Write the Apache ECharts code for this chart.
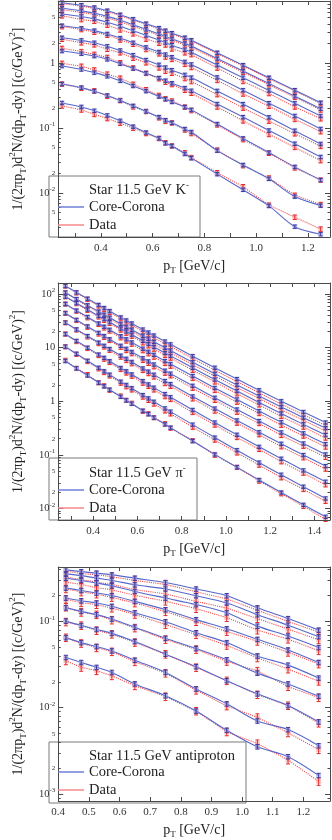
<!DOCTYPE html>
<html lang="en">
<head>
<meta charset="UTF-8">
<title>Core-Corona vs STAR 11.5 GeV spectra</title>
<script src="https://cdn.jsdelivr.net/npm/echarts@6/dist/echarts.min.js"></script>
<style>
  html, body { margin: 0; padding: 0; background: #fff; }
  #chart { width: 332px; height: 840px; }
</style>
</head>
<body>
<div id="chart"></div>
<script>
// ---- K- panel ----
var ptKaon = [0.25, 0.325, 0.375, 0.425, 0.475, 0.525, 0.575, 0.625, 0.65, 0.675, 0.725, 0.75, 0.85, 0.95, 1.05, 1.15, 1.25];
var kaonModel = [
  [8.47, 7.76, 7.14, 6.38, 5.53, 4.72, 4.03, 3.44, 3.14, 2.88, 2.45, 2.24, 1.44, 0.927, 0.594, 0.382, 0.245],
  [6.95, 6.35, 5.86, 5.22, 4.54, 3.86, 3.30, 2.81, 2.56, 2.35, 2.00, 1.83, 1.17, 0.752, 0.482, 0.309, 0.198],
  [5.68, 5.19, 4.78, 4.25, 3.68, 3.13, 2.66, 2.26, 2.07, 1.88, 1.60, 1.47, 0.931, 0.593, 0.378, 0.240, 0.153],
  [3.75, 3.42, 3.15, 2.80, 2.42, 2.05, 1.74, 1.48, 1.35, 1.23, 1.04, 0.951, 0.601, 0.381, 0.241, 0.153, 0.0966],
  [2.45, 2.23, 2.05, 1.81, 1.56, 1.32, 1.11, 0.938, 0.853, 0.776, 0.656, 0.597, 0.372, 0.233, 0.146, 0.0908, 0.0568],
  [1.53, 1.39, 1.28, 1.14, 0.975, 0.824, 0.695, 0.587, 0.535, 0.488, 0.411, 0.374, 0.234, 0.147, 0.0916, 0.0573, 0.0358],
  [0.899, 0.796, 0.711, 0.625, 0.532, 0.444, 0.370, 0.305, 0.277, 0.252, 0.210, 0.190, 0.115, 0.0692, 0.0418, 0.0252, 0.0158],
  [0.475, 0.418, 0.367, 0.316, 0.265, 0.219, 0.180, 0.147, 0.132, 0.120, 0.0964, 0.0867, 0.0448, 0.0269, 0.0165, 0.00879, 0.00638],
  [0.243, 0.211, 0.184, 0.156, 0.129, 0.105, 0.0851, 0.0692, 0.0582, 0.0530, 0.0399, 0.0344, 0.0195, 0.0112, 0.00632, 0.00303, 0.00232]
];
var kaonData = [
  [8.22, 7.53, 6.93, 6.19, 5.36, 4.58, 3.91, 3.34, 3.05, 2.79, 2.38, 2.17, 1.40, 0.899, 0.576, 0.371, 0.238],
  [6.60, 6.03, 5.57, 4.96, 4.31, 3.67, 3.14, 2.67, 2.43, 2.23, 1.90, 1.74, 1.12, 0.722, 0.463, 0.297, 0.190],
  [5.34, 4.67, 4.40, 3.83, 3.24, 2.82, 2.34, 2.03, 1.90, 1.65, 1.44, 1.35, 0.838, 0.522, 0.340, 0.211, 0.139],
  [3.64, 3.28, 2.99, 2.69, 2.27, 1.95, 1.62, 1.39, 1.24, 1.14, 0.957, 0.856, 0.541, 0.335, 0.217, 0.136, 0.0879],
  [2.33, 2.05, 1.91, 1.63, 1.44, 1.19, 1.01, 0.844, 0.751, 0.698, 0.577, 0.519, 0.327, 0.203, 0.128, 0.0817, 0.0523],
  [1.68, 1.50, 1.36, 1.22, 1.01, 0.840, 0.695, 0.575, 0.508, 0.468, 0.382, 0.344, 0.211, 0.129, 0.0797, 0.0504, 0.0315],
  [0.989, 0.892, 0.782, 0.675, 0.585, 0.471, 0.389, 0.317, 0.283, 0.260, 0.210, 0.186, 0.112, 0.0664, 0.0410, 0.0244, 0.0158],
  [0.475, 0.410, 0.374, 0.310, 0.265, 0.212, 0.180, 0.144, 0.127, 0.120, 0.0935, 0.0824, 0.0457, 0.0264, 0.0170, 0.00923, 0.00664],
  [0.219, 0.190, 0.162, 0.140, 0.119, 0.0998, 0.0825, 0.0692, 0.0594, 0.0530, 0.0415, 0.0351, 0.0205, 0.0125, 0.00651, 0.00424, 0.00278]
];
var kaonXLabels = [0.4, 0.6, 0.8, 1.0, 1.2];
var kaonXTicks = [0.3, 0.4, 0.5, 0.6, 0.7, 0.8, 0.9, 1.0, 1.1, 1.2];
var kaonYLabels = [0.005, 0.01, 0.02, 0.05, 0.1, 0.2, 0.5, 1, 2, 5];

// ---- pi- panel ----
var ptPion = [0.275, 0.325, 0.375, 0.425, 0.45, 0.475, 0.525, 0.55, 0.575, 0.625, 0.65, 0.675, 0.725, 0.75, 0.85, 0.95, 1.05, 1.15, 1.25, 1.35, 1.45];
var pionModel = [
  [141, 107, 81.7, 62.4, 54.6, 48.0, 36.6, 32.1, 28.2, 21.7, 19.1, 16.8, 13.0, 11.5, 6.92, 4.21, 2.59, 1.60, 1.00, 0.630, 0.401],
  [106, 80.4, 61.5, 47.1, 41.2, 36.3, 27.7, 24.4, 21.5, 16.6, 14.6, 12.8, 9.93, 8.79, 5.33, 3.25, 2.01, 1.25, 0.783, 0.494, 0.316],
  [89.1, 67.5, 51.3, 39.0, 34.0, 29.9, 22.7, 20.0, 17.5, 13.4, 11.7, 10.3, 7.94, 7.00, 4.20, 2.54, 1.55, 0.951, 0.592, 0.370, 0.234],
  [65.0, 49.0, 37.2, 28.2, 24.5, 21.5, 16.3, 14.3, 12.5, 9.55, 8.36, 7.33, 5.62, 4.95, 2.95, 1.77, 1.08, 0.656, 0.406, 0.252, 0.159],
  [43.7, 32.8, 24.8, 18.8, 16.4, 14.3, 10.8, 9.48, 8.30, 6.32, 5.53, 4.84, 3.71, 3.27, 1.94, 1.16, 0.701, 0.427, 0.262, 0.163, 0.102],
  [29.2, 21.8, 16.4, 12.4, 10.8, 9.40, 7.08, 6.18, 5.40, 4.09, 3.57, 3.12, 2.38, 2.09, 1.23, 0.730, 0.438, 0.264, 0.161, 0.0993, 0.0618],
  [17.9, 13.3, 9.95, 7.43, 6.43, 5.58, 4.17, 3.62, 3.16, 2.37, 2.06, 1.79, 1.36, 1.19, 0.687, 0.401, 0.237, 0.141, 0.0847, 0.0513, 0.0315],
  [10.4, 7.66, 5.68, 4.21, 3.62, 3.13, 2.32, 2.01, 1.75, 1.30, 1.13, 0.977, 0.735, 0.640, 0.366, 0.210, 0.122, 0.0718, 0.0426, 0.0255, 0.0154],
  [5.62, 4.10, 3.02, 2.22, 1.90, 1.64, 1.21, 1.04, 0.899, 0.665, 0.574, 0.495, 0.370, 0.321, 0.181, 0.102, 0.0587, 0.0340, 0.0199, 0.0117, 0.00700]
];
var pionData = [
  [141, 105, 79.2, 59.9, 51.9, 45.6, 34.4, 29.9, 26.2, 20.0, 17.6, 15.3, 11.7, 10.5, 6.23, 3.79, 2.31, 1.44, 0.880, 0.561, 0.353],
  [106, 78.8, 59.7, 45.2, 39.1, 34.5, 26.0, 22.7, 20.0, 15.3, 13.4, 11.6, 8.94, 8.00, 4.80, 2.93, 1.79, 1.13, 0.689, 0.440, 0.278],
  [89.1, 66.2, 49.8, 37.4, 32.3, 28.4, 21.3, 18.6, 16.3, 12.3, 10.8, 9.37, 7.15, 6.37, 3.78, 2.29, 1.38, 0.856, 0.521, 0.329, 0.206],
  [65.0, 48.0, 36.1, 27.1, 23.3, 20.4, 15.3, 13.3, 11.6, 8.79, 7.69, 6.67, 5.06, 4.50, 2.66, 1.59, 0.961, 0.590, 0.357, 0.224, 0.140],
  [43.7, 32.1, 24.1, 18.0, 15.6, 13.6, 10.2, 8.82, 7.72, 5.81, 5.09, 4.40, 3.34, 2.98, 1.75, 1.04, 0.624, 0.384, 0.231, 0.145, 0.0898],
  [29.2, 21.4, 15.9, 11.9, 10.3, 8.93, 6.66, 5.75, 5.02, 3.76, 3.28, 2.84, 2.14, 1.90, 1.11, 0.657, 0.390, 0.238, 0.142, 0.0884, 0.0544],
  [17.9, 13.0, 9.65, 7.13, 6.11, 5.30, 3.92, 3.37, 2.94, 2.18, 1.90, 1.63, 1.22, 1.08, 0.618, 0.361, 0.211, 0.127, 0.0745, 0.0457, 0.0277],
  [10.4, 7.51, 5.51, 4.04, 3.44, 2.97, 2.18, 1.87, 1.63, 1.20, 1.04, 0.889, 0.662, 0.582, 0.329, 0.189, 0.109, 0.0646, 0.0375, 0.0227, 0.0136],
  [5.79, 4.10, 3.14, 2.22, 1.94, 1.61, 1.25, 1.04, 0.917, 0.652, 0.585, 0.495, 0.381, 0.315, 0.185, 0.0989, 0.0587, 0.0326, 0.0189, 0.0110, 0.0063]
];
var pionXLabels = [0.4, 0.6, 0.8, 1.0, 1.2, 1.4];
var pionXTicks = [0.3, 0.4, 0.5, 0.6, 0.7, 0.8, 0.9, 1.0, 1.1, 1.2, 1.3, 1.4];
var pionYLabels = [0.01, 0.02, 0.05, 0.1, 0.2, 0.5, 1, 2, 5, 10, 20, 50, 100];

// ---- antiproton panel ----
var ptPbar = [0.425, 0.475, 0.525, 0.575, 0.65, 0.75, 0.85, 0.95, 1.05, 1.15, 1.25];
var pbarModel = [
  [0.396, 0.378, 0.363, 0.347, 0.318, 0.283, 0.238, 0.199, 0.144, 0.108, 0.0794],
  [0.356, 0.340, 0.318, 0.299, 0.266, 0.238, 0.199, 0.164, 0.120, 0.0906, 0.0667],
  [0.318, 0.299, 0.279, 0.259, 0.223, 0.187, 0.157, 0.126, 0.0883, 0.0678, 0.0499],
  [0.244, 0.229, 0.214, 0.200, 0.171, 0.137, 0.105, 0.0824, 0.0621, 0.0468, 0.0335],
  [0.187, 0.174, 0.164, 0.150, 0.126, 0.0993, 0.0741, 0.0569, 0.0399, 0.0312, 0.0221],
  [0.144, 0.131, 0.120, 0.107, 0.0859, 0.0638, 0.0485, 0.0359, 0.0252, 0.0189, 0.0136],
  [0.101, 0.0899, 0.0809, 0.0728, 0.0585, 0.0418, 0.0299, 0.0206, 0.0145, 0.0106, 0.00685],
  [0.0650, 0.0569, 0.0512, 0.0456, 0.0356, 0.0257, 0.0165, 0.0111, 0.00703, 0.00558, 0.00363],
  [0.0383, 0.0335, 0.0294, 0.0257, 0.0189, 0.0138, 0.00916, 0.00548, 0.00353, 0.00271, 0.00164]
];
var pbarData = [
  [0.384, 0.359, 0.348, 0.330, 0.299, 0.269, 0.221, 0.183, 0.135, 0.100, 0.0754],
  [0.328, 0.306, 0.286, 0.269, 0.234, 0.209, 0.171, 0.143, 0.108, 0.0815, 0.0614],
  [0.286, 0.269, 0.246, 0.233, 0.201, 0.172, 0.141, 0.111, 0.0795, 0.0624, 0.0459],
  [0.239, 0.220, 0.208, 0.190, 0.164, 0.130, 0.0998, 0.0766, 0.0590, 0.0440, 0.0322],
  [0.181, 0.165, 0.157, 0.143, 0.121, 0.0923, 0.0704, 0.0529, 0.0379, 0.0281, 0.0203],
  [0.147, 0.128, 0.120, 0.104, 0.0842, 0.0619, 0.0475, 0.0345, 0.0267, 0.0176, 0.0131],
  [0.0990, 0.0899, 0.0785, 0.0713, 0.0573, 0.0418, 0.0293, 0.0206, 0.0142, 0.0106, 0.00664],
  [0.0650, 0.0558, 0.0497, 0.0447, 0.0342, 0.0252, 0.0160, 0.0105, 0.00773, 0.00513, 0.00327],
  [0.0350, 0.0294, 0.0269, 0.0235, 0.0180, 0.0135, 0.00916, 0.00526, 0.00385, 0.00248, 0.00140]
];
var pbarXLabels = [0.4, 0.5, 0.6, 0.7, 0.8, 0.9, 1.0, 1.1, 1.2];
var pbarXTicks = [0.4, 0.5, 0.6, 0.7, 0.8, 0.9, 1.0, 1.1, 1.2];
var pbarYLabels = [0.001, 0.002, 0.005, 0.01, 0.02, 0.05, 0.1, 0.2];

// ---- styling ----
var FONT = 'Liberation Serif';
var AXIS = '#4a4a4a';
var BLUE = '#5868ca', BLUE_ERR = '#40389a', BLUE_PT = 'rgba(140,160,236,0.55)';
var RED = '#f24848', RED_ERR = '#e42828', RED_PT = 'rgba(246,140,140,0.5)';

var panels = [
  { pt: ptKaon, model: kaonModel, data: kaonData, xLabels: kaonXLabels, xTicks: kaonXTicks, yLabels: kaonYLabels,
    top: 1, height: 236, xMin: 0.2355, xMax: 1.286, yMin: 0.0021, yMax: 9.0, errM: 0.06, errD: 0.08,
    title: 'Star 11.5 GeV K{sup|-}', boxY: 176, boxW: 151, titleY: 190, legendTop: 199 },
  { pt: ptPion, model: pionModel, data: pionData, xLabels: pionXLabels, xTicks: pionXTicks, yLabels: pionYLabels,
    top: 283, height: 237, xMin: 0.2428, xMax: 1.47, yMin: 0.0061, yMax: 160, errM: 0.07, errD: 0.09,
    title: 'Star 11.5 GeV \u03c0{sup|-}', boxY: 458, boxW: 148, titleY: 473, legendTop: 482 },
  { pt: ptPbar, model: pbarModel, data: pbarData, xLabels: pbarXLabels, xTicks: pbarXTicks, yLabels: pbarYLabels,
    top: 567, height: 236, xMin: 0.4, xMax: 1.287, yMin: 0.00083, yMax: 0.428, errM: 0.06, errD: 0.1,
    title: 'Star 11.5 GeV antiproton', boxY: 742, boxW: 197, titleY: 756, legendTop: 764 }
];

function logTicks(lo, hi, major) {
  var out = [];
  for (var e = Math.floor(Math.log10(lo)); e <= Math.ceil(Math.log10(hi)); e++) {
    for (var k = major ? 1 : 2; k <= (major ? 1 : 9); k++) {
      var v = k * Math.pow(10, e);
      if (v >= lo && v <= hi) out.push(v);
    }
  }
  return out;
}

function yLabel(v) {
  var lg = Math.log10(v), e = Math.round(lg);
  if (Math.abs(lg - e) < 1e-6) {
    if (e === 0) return '{n|1}';
    if (e === 1) return '{n|10}';
    return '{n|10}{e|' + e + '}';
  }
  return '{m|' + Math.round(v / Math.pow(10, Math.floor(lg + 1e-9))) + '}';
}

function errBar(params, api) {
  var a = api.coord([api.value(0), api.value(1)]);
  var b = api.coord([api.value(0), api.value(2)]);
  var s = { stroke: api.visual('color'), lineWidth: 1 };
  return { type: 'group', children: [
    { type: 'line', shape: { x1: a[0], y1: a[1], x2: b[0], y2: b[1] }, style: s },
    { type: 'line', shape: { x1: a[0] - 2, y1: a[1], x2: a[0] + 2, y2: a[1] }, style: s },
    { type: 'line', shape: { x1: b[0] - 2, y1: b[1], x2: b[0] + 2, y2: b[1] }, style: s }
  ] };
}

function pairs(xs, ys) { return xs.map(function (x, j) { return [x, ys[j]]; }); }
function bars(xs, ys, rel) { return xs.map(function (x, j) { return [x, ys[j] * (1 - rel), ys[j] * (1 + rel)]; }); }

var grids = [], xAxes = [], yAxes = [], series = [], legends = [], titles = [], graphics = [];

panels.forEach(function (p, i) {
  grids.push({ left: 49, width: 281, top: p.top, height: p.height });

  function xAxis(pos) {
    var ax = {
      gridIndex: i, type: 'value', position: pos, min: p.xMin, max: p.xMax, z: 10,
      splitLine: { show: false },
      axisLine: { show: true, onZero: false, lineStyle: { color: AXIS, width: 1 } },
      axisTick: { show: true, inside: true, length: 4, customValues: p.xTicks, lineStyle: { color: AXIS } },
      axisLabel: { show: false }
    };
    if (pos === 'bottom') {
      ax.axisLabel = { show: true, customValues: p.xLabels, margin: 6, fontFamily: FONT, fontSize: 11, color: '#333',
        formatter: function (v) { return v.toFixed(1); } };
      ax.name = 'p{sub|T} [GeV/c]';
      ax.nameLocation = 'middle';
      ax.nameGap = 20;
      ax.nameTextStyle = { fontFamily: FONT, fontSize: 14, color: '#222', lineHeight: 18,
        rich: { sub: { fontFamily: FONT, fontSize: 9, lineHeight: 9, verticalAlign: 'bottom', color: '#222' } } };
    }
    return ax;
  }
  xAxes.push(xAxis('bottom'), xAxis('top'));

  function yAxis(pos, major) {
    var ax = {
      gridIndex: i, type: 'log', logBase: 10, position: pos, min: p.yMin, max: p.yMax, z: 10,
      splitLine: { show: false },
      axisLine: { show: major, onZero: false, lineStyle: { color: AXIS, width: 1 } },
      axisTick: { show: true, inside: true, length: major ? 5 : 2.5,
        customValues: logTicks(p.yMin, p.yMax, major), lineStyle: { color: AXIS } },
      axisLabel: { show: false }
    };
    if (pos === 'left' && major) {
      ax.axisLabel = { show: true, customValues: p.yLabels, margin: 3, formatter: yLabel,
        rich: {
          n: { fontFamily: FONT, fontSize: 10.5, color: '#333', lineHeight: 14 },
          e: { fontFamily: FONT, fontSize: 7, color: '#333', lineHeight: 7, verticalAlign: 'top' },
          m: { fontFamily: FONT, fontSize: 7, color: '#333', lineHeight: 14 }
        } };
      ax.name = '1/(2\u03c0p{sub|T})d{sup|2}N/(dp{sub|T}-dy) [(c/GeV){sup|2}]';
      ax.nameLocation = 'middle';
      ax.nameRotate = 90;
      ax.nameGap = 27;
      ax.nameTextStyle = { fontFamily: FONT, fontSize: 14, color: '#222', lineHeight: 20,
        rich: {
          sub: { fontFamily: FONT, fontSize: 9, lineHeight: 9, verticalAlign: 'bottom', color: '#222' },
          sup: { fontFamily: FONT, fontSize: 9, lineHeight: 9, verticalAlign: 'top', color: '#222' }
        } };
    }
    return ax;
  }
  yAxes.push(yAxis('left', true), yAxis('left', false), yAxis('right', true), yAxis('right', false));

  var xi = 2 * i, yi = 4 * i;
  p.model.forEach(function (curve, c) {
    var meas = p.data[c];
    series.push({
      type: 'line', name: 'Data', xAxisIndex: xi, yAxisIndex: yi, data: pairs(p.pt, meas),
      symbol: 'rect', symbolSize: 5, itemStyle: { color: RED_PT },
      lineStyle: { color: RED, width: 1.1, type: 'dotted' }, z: 2, silent: true
    });
    series.push({
      type: 'custom', name: 'Data err', xAxisIndex: xi, yAxisIndex: yi, data: bars(p.pt, meas, p.errD),
      encode: { x: 0, y: [1, 2] }, itemStyle: { color: RED_ERR }, renderItem: errBar, z: 3, silent: true
    });
    series.push({
      type: 'line', name: 'Core-Corona', xAxisIndex: xi, yAxisIndex: yi, data: pairs(p.pt, curve),
      smooth: 0.3, symbol: 'rect', symbolSize: 5, itemStyle: { color: BLUE_PT },
      lineStyle: { color: BLUE, width: 1.1 }, z: 4, silent: true
    });
    series.push({
      type: 'custom', name: 'Core-Corona err', xAxisIndex: xi, yAxisIndex: yi, data: bars(p.pt, curve, p.errM),
      encode: { x: 0, y: [1, 2] }, itemStyle: { color: BLUE_ERR }, renderItem: errBar, z: 5, silent: true
    });
  });

  legends.push({
    left: 58, top: p.legendTop, orient: 'vertical', padding: 0, itemGap: 2,
    itemWidth: 26, itemHeight: 1.5, selectedMode: false, z: 20,
    textStyle: { fontFamily: FONT, fontSize: 14.5, color: '#222', lineHeight: 16 },
    data: [
      { name: 'Core-Corona', icon: 'rect', itemStyle: { color: '#6f7fd6' } },
      { name: 'Data', icon: 'rect', itemStyle: { color: '#f58a8a' } }
    ]
  });

  titles.push({
    text: p.title, left: 89, top: p.titleY - 9, padding: 0, z: 20,
    textStyle: { fontFamily: FONT, fontSize: 14.5, fontWeight: 'normal', color: '#222', lineHeight: 18,
      rich: { sup: { fontFamily: FONT, fontSize: 9, lineHeight: 9, verticalAlign: 'top', color: '#222' } } }
  });

  graphics.push({
    type: 'rect', z: 8,
    shape: { x: 49, y: p.boxY, width: p.boxW, height: p.top + p.height - p.boxY },
    style: { fill: '#fff', stroke: '#7a7a7a', lineWidth: 1 }
  });
});

var chart = echarts.init(document.getElementById('chart'));
chart.setOption({
  animation: false,
  backgroundColor: '#fff',
  title: titles,
  grid: grids,
  xAxis: xAxes,
  yAxis: yAxes,
  legend: legends,
  graphic: graphics,
  series: series
});
</script>
</body>
</html>
